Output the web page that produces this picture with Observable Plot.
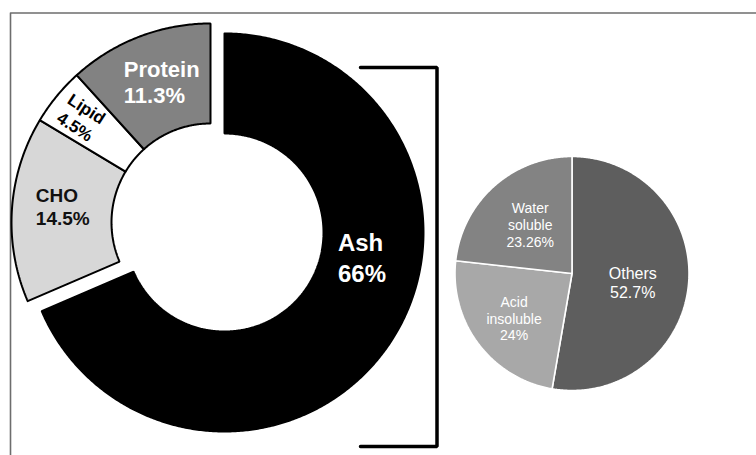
<!DOCTYPE html>
<html><head><meta charset="utf-8">
<script src="https://cdn.jsdelivr.net/npm/d3@7"></script>
<script src="https://cdn.jsdelivr.net/npm/@observablehq/plot@0.6"></script>
<style>
html,body{margin:0;padding:0;background:#fff;}
#chart svg{display:block;}
</style></head><body><div id="chart"></div>
<script>
// ---------- DATA ----------
const donutCategories = ["Ash", "CHO", "Lipid", "Protein"];
const donutValues = [66, 14.5, 4.5, 11.3];
const donutLabels = ["Ash\n66%", "CHO\n14.5%", "Lipid\n4.5%", "Protein\n11.3%"];
const ashCategories = ["Others", "Acid insoluble", "Water soluble"];
const ashValues = [52.7, 24, 23.26];
const ashLabels = ["Others\n52.7%", "Acid\ninsoluble\n24%", "Water\nsoluble\n23.26%"];

// ---------- LAYOUT / STYLE ----------
const W = 756, H = 455;
const donut = {cx: 224, cy: 232, R: 199, r: 99, explode: [-14, -10], labelR: 149};
const donutStyle = {
  Ash:     {fill: "#000000", text: "#ffffff", size: 24, lh: 1.3,  anchor: "start",  nudge: [-11, -58], rotate: 0},
  CHO:     {fill: "#d7d7d7", text: "#111111", size: 19, lh: 1.2,  anchor: "start",  nudge: [-26, -6],  rotate: 0},
  Lipid:   {fill: "#ffffff", text: "#000000", size: 17, lh: 1.25, anchor: "middle", nudge: [-14, -11], rotate: 33},
  Protein: {fill: "#828282", text: "#ffffff", size: 22, lh: 1.18, anchor: "start",  nudge: [-33, -2],  rotate: 0}
};
const pie = {cx: 571.5, cy: 273, R: 117, labelR: 70};
const pieStyle = {
  "Others":         {fill: "#5e5e5e", size: 16, lh: 1.22, nudge: [-9, 3]},
  "Acid insoluble": {fill: "#a8a8a8", size: 14, lh: 1.17, nudge: [-2, 3]},
  "Water soluble":  {fill: "#838383", size: 14, lh: 1.2,  nudge: [5, 3]}
};
const framePts = [{x: 10, y: H}, {x: 10, y: 12.5}, {x: W, y: 12.5}];
const bracketPts = [{x: 360, y: 67}, {x: 436.5, y: 67}, {x: 436.5, y: 446}, {x: 360, y: 446}];

// ---------- GEOMETRY FROM DATA ----------
function arcPoints(a0, a1, R, r, cx, cy) {
  const pts = [];
  const n = Math.max(2, Math.ceil((a1 - a0) / (Math.PI / 360)));
  for (let i = 0; i <= n; i++) {
    const a = a0 + (a1 - a0) * i / n;
    pts.push({x: cx + R * Math.sin(a), y: cy - R * Math.cos(a)});
  }
  if (r > 0) {
    for (let i = n; i >= 0; i--) {
      const a = a0 + (a1 - a0) * i / n;
      pts.push({x: cx + r * Math.sin(a), y: cy - r * Math.cos(a)});
    }
  } else {
    pts.push({x: cx, y: cy});
  }
  pts.push(pts[0]);
  return pts;
}

const pieGen = d3.pie().sort(null).value(d => d.value);

const donutArcs = pieGen(donutCategories.map((name, i) => ({name, value: donutValues[i], label: donutLabels[i]})));
const pieArcs = pieGen(ashCategories.map((name, i) => ({name, value: ashValues[i], label: ashLabels[i]})));

const marks = [];

// frame
marks.push(Plot.line(framePts, {x: "x", y: "y", stroke: "#6d6d6d", strokeWidth: 1.6}));

// donut slices
donutArcs.forEach(a => {
  const s = donutStyle[a.data.name];
  const off = a.data.name === "Ash" ? [0, 0] : donut.explode;
  const cx = donut.cx + off[0], cy = donut.cy + off[1];
  const pts = arcPoints(a.startAngle, a.endAngle, donut.R, donut.r, cx, cy);
  marks.push(Plot.line(pts, {x: "x", y: "y", fill: s.fill, stroke: "#000", strokeWidth: 2, strokeLinejoin: "miter", curve: "linear"}));
  const mid = (a.startAngle + a.endAngle) / 2;
  const lx = cx + donut.labelR * Math.sin(mid) + s.nudge[0];
  const ly = cy - donut.labelR * Math.cos(mid) + s.nudge[1];
  marks.push(Plot.text([{x: lx, y: ly, label: a.data.label}], {
    x: "x", y: "y", text: "label", fill: s.text, fontSize: s.size, fontWeight: "bold",
    textAnchor: s.anchor, lineHeight: s.lh, rotate: s.rotate
  }));
});

// bracket
marks.push(Plot.line(bracketPts, {x: "x", y: "y", stroke: "#000", strokeWidth: 3.5, strokeLinejoin: "miter"}));

// ash composition pie
pieArcs.forEach(a => {
  const s = pieStyle[a.data.name];
  const pts = arcPoints(a.startAngle, a.endAngle, pie.R, 0, pie.cx, pie.cy);
  marks.push(Plot.line(pts, {x: "x", y: "y", fill: s.fill, stroke: "#fff", strokeWidth: 1.6, strokeLinejoin: "miter", curve: "linear"}));
});
pieArcs.forEach(a => {
  const s = pieStyle[a.data.name];
  const mid = (a.startAngle + a.endAngle) / 2;
  const lx = pie.cx + pie.labelR * Math.sin(mid) + s.nudge[0];
  const ly = pie.cy - pie.labelR * Math.cos(mid) + s.nudge[1];
  marks.push(Plot.text([{x: lx, y: ly, label: a.data.label}], {
    x: "x", y: "y", text: "label", fill: "#ffffff", fontSize: s.size, textAnchor: "middle", lineHeight: s.lh
  }));
});

const chart = Plot.plot({
  width: W, height: H, margin: 0,
  x: {domain: [0, W], range: [0, W], axis: null},
  y: {domain: [0, H], range: [0, H], axis: null},
  style: {fontFamily: "'Liberation Sans', Arial, Helvetica, sans-serif", background: "#fff"},
  marks
});
document.getElementById("chart").appendChild(chart);
</script>
</body></html>
